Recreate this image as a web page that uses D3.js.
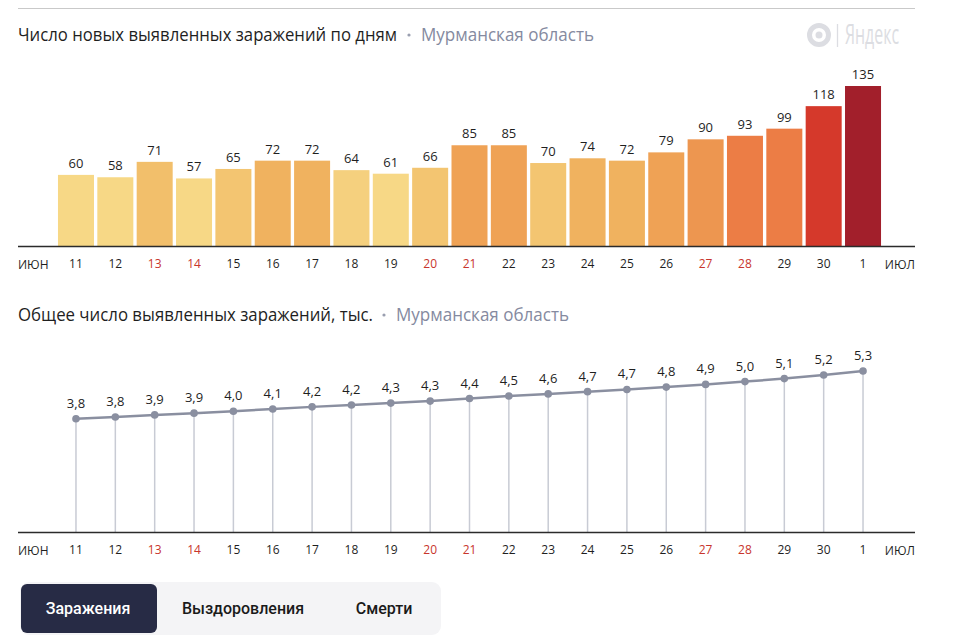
<!DOCTYPE html>
<html><head><meta charset="utf-8">
<script src="https://cdn.jsdelivr.net/npm/d3@7"></script>
<style>
html,body{margin:0;padding:0;background:#fff;}
svg{display:block;font-family:"Open Sans",sans-serif;}
</style></head>
<body>
<svg id="c" width="960" height="640"></svg>
<script>
// ---- data ----
const days = ["11","12","13","14","15","16","17","18","19","20","21","22","23","24","25","26","27","28","29","30","1"];
const weekend = ["13","14","20","21","27","28"];
const newCases = [60,58,71,57,65,72,72,64,61,66,85,85,70,74,72,79,90,93,99,118,135];
const totalCases = [3.759,3.817,3.888,3.945,4.010,4.082,4.154,4.218,4.279,4.345,4.430,4.515,4.585,4.659,4.731,4.810,4.900,4.993,5.092,5.210,5.345];
const totalLabels = ["3,8","3,8","3,9","3,9","4,0","4,1","4,2","4,2","4,3","4,3","4,4","4,5","4,6","4,7","4,7","4,8","4,9","5,0","5,1","5,2","5,3"];
const monthLabels = ["ИЮН","ИЮЛ"];
const titles = ["Число новых выявленных заражений по дням","Общее число выявленных заражений, тыс."];
const region = "Мурманская область";
const tabs = ["Заражения","Выздоровления","Смерти"];
// styles (per-bar colours)
const barColors = ["#f7d886","#f7d886","#f2bf6b","#f7d886","#f3c571","#f0b25f","#f0b25f","#f5d07e","#f7d886","#f3c571",
  "#efa255","#efa255","#f3c571","#f0b25f","#f0b25f","#efa255","#ed9650","#ec7d45","#ec7d45","#d5392b","#a21f2b"];

const svg = d3.select("#c");
const dark = "#1f1f1f", red = "#c8352c", gray = "#858aa0";

// top rule
svg.append("line").attr("x1",18).attr("x2",915).attr("y1",8.5).attr("y2",8.5).attr("stroke","#c9c9c9").attr("stroke-width",1);

function title(y, t, w1, dotX, regX, regW){
  svg.append("text").attr("x",18).attr("y",y).attr("font-size",18).attr("fill",dark)
    .attr("textLength",w1).attr("lengthAdjust","spacingAndGlyphs").text(t);
  svg.append("circle").attr("cx",dotX).attr("cy",y-6).attr("r",1.6).attr("fill","#9a9fb0");
  svg.append("text").attr("x",regX).attr("y",y).attr("font-size",18).attr("fill",gray)
    .attr("textLength",regW).attr("lengthAdjust","spacingAndGlyphs").text(region);
}
title(41, titles[0], 379, 409, 421, 173);
title(321, titles[1], 355, 384, 396, 173);

// Yandex logo
const lc = "#dcdde2";
const lg = svg.append("g");
lg.append("circle").attr("cx",819).attr("cy",35).attr("r",9.5).attr("fill","none").attr("stroke",lc).attr("stroke-width",5);
lg.append("circle").attr("cx",819).attr("cy",35).attr("r",3.5).attr("fill",lc);
lg.append("line").attr("x1",837.5).attr("x2",837.5).attr("y1",24).attr("y2",47).attr("stroke",lc).attr("stroke-width",1.3);
lg.append("text").attr("x",845).attr("y",44).attr("font-size",27).attr("fill",lc)
  .attr("textLength",54).attr("lengthAdjust","spacingAndGlyphs").text("Яндекс");

// scales
const x = d3.scaleBand().domain(days).range([56.3, 882.7]).paddingInner(0.085).paddingOuter(0.0425);
const cx = d => x(d) + x.bandwidth()/2;

// ---- bar chart ----
const base1 = 246;
const y1 = d3.scaleLinear().domain([0, d3.max(newCases)]).range([base1, base1-160]);
const g1 = svg.append("g");
g1.selectAll("rect").data(days).join("rect")
  .attr("x", d => x(d)).attr("width", x.bandwidth())
  .attr("y", (d,i) => y1(newCases[i])).attr("height", (d,i) => base1 - y1(newCases[i]))
  .attr("fill", (d,i) => barColors[i]);
g1.selectAll("text.v").data(days).join("text").attr("class","v")
  .attr("x", d => cx(d)).attr("y", (d,i) => y1(newCases[i]) - 7)
  .attr("text-anchor","middle").attr("font-size",13).attr("fill",dark)
  .text((d,i) => newCases[i]);

function axis(base){
  const ax = svg.append("g").attr("transform",`translate(0,${base})`)
    .call(d3.axisBottom(x).tickSize(0).tickPadding(13));
  ax.select(".domain").remove();
  ax.selectAll("text").attr("font-size",12).attr("font-family","'Open Sans',sans-serif")
    .attr("fill", d => weekend.includes(d) ? red : dark);
  svg.append("line").attr("x1",18).attr("x2",915).attr("y1",base+0.5).attr("y2",base+0.5)
    .attr("stroke","#2b2b2b").attr("stroke-width",1.6);
  svg.append("text").attr("x",18).attr("y",base+23).attr("font-size",12).attr("fill",dark).text(monthLabels[0]);
  svg.append("text").attr("x",915).attr("y",base+23).attr("text-anchor","end").attr("font-size",12).attr("fill",dark).text(monthLabels[1]);
}
axis(base1);

// ---- line chart ----
const base2 = 532;
const y2 = d3.scaleLinear().domain([0, d3.max(totalCases)]).range([base2, base2-161]);
const g2 = svg.append("g");
g2.selectAll("line.drop").data(days).join("line").attr("class","drop")
  .attr("x1", d => cx(d)).attr("x2", d => cx(d))
  .attr("y1", (d,i) => y2(totalCases[i])).attr("y2", base2)
  .attr("stroke","#c8cbd4").attr("stroke-width",1.5);
const line = d3.line().x(d => cx(d[0])).y(d => y2(d[1]));
g2.append("path").datum(days.map((d,i)=>[d,totalCases[i]])).attr("d",line)
  .attr("fill","none").attr("stroke","#8a8fa0").attr("stroke-width",2.5);
g2.selectAll("circle").data(days).join("circle")
  .attr("cx", d => cx(d)).attr("cy",(d,i)=>y2(totalCases[i])).attr("r",3.8).attr("fill","#8a8fa0");
g2.selectAll("text.v").data(days).join("text").attr("class","v")
  .attr("x", d => cx(d)).attr("y",(d,i)=>y2(totalCases[i]) - 11)
  .attr("text-anchor","middle").attr("font-size",13).attr("fill",dark)
  .text((d,i)=>totalLabels[i]);
axis(base2);

// ---- tabs ----
svg.append("rect").attr("x",20).attr("y",582).attr("width",421).attr("height",53).attr("rx",9).attr("fill","#f4f4f6");
svg.append("rect").attr("x",21).attr("y",584).attr("width",136).attr("height",49).attr("rx",6).attr("fill","#272b45");
const tabX = [88, 243, 384];
svg.selectAll("text.tab").data(tabs).join("text").attr("class","tab")
  .attr("x",(d,i)=>tabX[i]).attr("y",614).attr("text-anchor","middle")
  .attr("font-family","Roboto,sans-serif").attr("font-weight",500).attr("font-size",16)
  .attr("fill",(d,i)=> i===0 ? "#ffffff" : "#1a1a1a").text(d=>d);
</script>
</body></html>
